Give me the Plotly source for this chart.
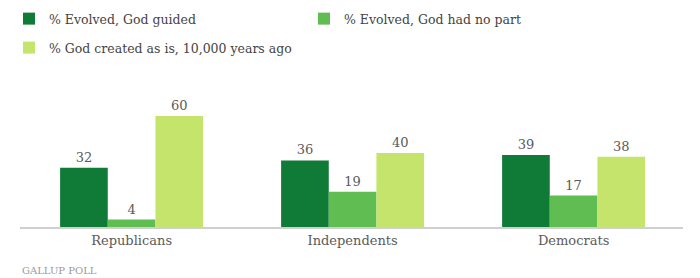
import plotly.graph_objects as go

categories = ["Republicans", "Independents", "Democrats"]
series_names = ["% Evolved, God guided", "% Evolved, God had no part",
                "% God created as is, 10,000 years ago"]
god_guided = [32, 36, 39]
no_part = [4, 19, 17]
created = [60, 40, 38]
colors = ["#107a37", "#5fbd52", "#c5e46c"]

FONT = "DejaVu Serif"
TXT = "#5a5a5a"

fig = go.Figure()
for name, vals, col, lg in zip(series_names, [god_guided, no_part, created], colors,
                               ["legend", "legend", "legend2"]):
    fig.add_trace(go.Bar(
        x=categories, y=vals, name=name, marker_color=col, marker_line_width=0,
        text=[str(v) for v in vals], textposition="outside", cliponaxis=False,
        textfont=dict(family=FONT, size=13, color=TXT), legend=lg,
    ))

legend_common = dict(orientation="h", xref="container", yref="container",
                     x=9 / 700, xanchor="left", yanchor="middle",
                     font=dict(family=FONT, size=12.5, color="#444"),
                     entrywidth=250, bgcolor="rgba(0,0,0,0)")

fig.update_layout(
    width=700, height=278,
    margin=dict(l=20, r=17, t=80, b=51),
    paper_bgcolor="white", plot_bgcolor="white",
    barmode="group", bargap=0.353, bargroupgap=0,
    showlegend=True,
    legend=dict(y=1 - 19 / 278, **legend_common),
    legend2=dict(y=1 - 48 / 278, **legend_common),
    font=dict(family=FONT, color=TXT),
    xaxis=dict(range=[-0.505, 2.495], showline=True, linecolor="#cfcfcf", linewidth=2,
               ticks="", showgrid=False, tickfont=dict(family=FONT, size=13, color=TXT)),
    yaxis=dict(range=[0, 79.5], visible=False, showgrid=False, zeroline=False),
    annotations=[dict(text="GALLUP POLL", xref="paper", yref="paper",
                      x=0, y=(227 - 263) / 147, xanchor="left", yanchor="top",
                      showarrow=False, font=dict(family=FONT, size=10, color="#999"))],
)

fig.write_html("out.html")
